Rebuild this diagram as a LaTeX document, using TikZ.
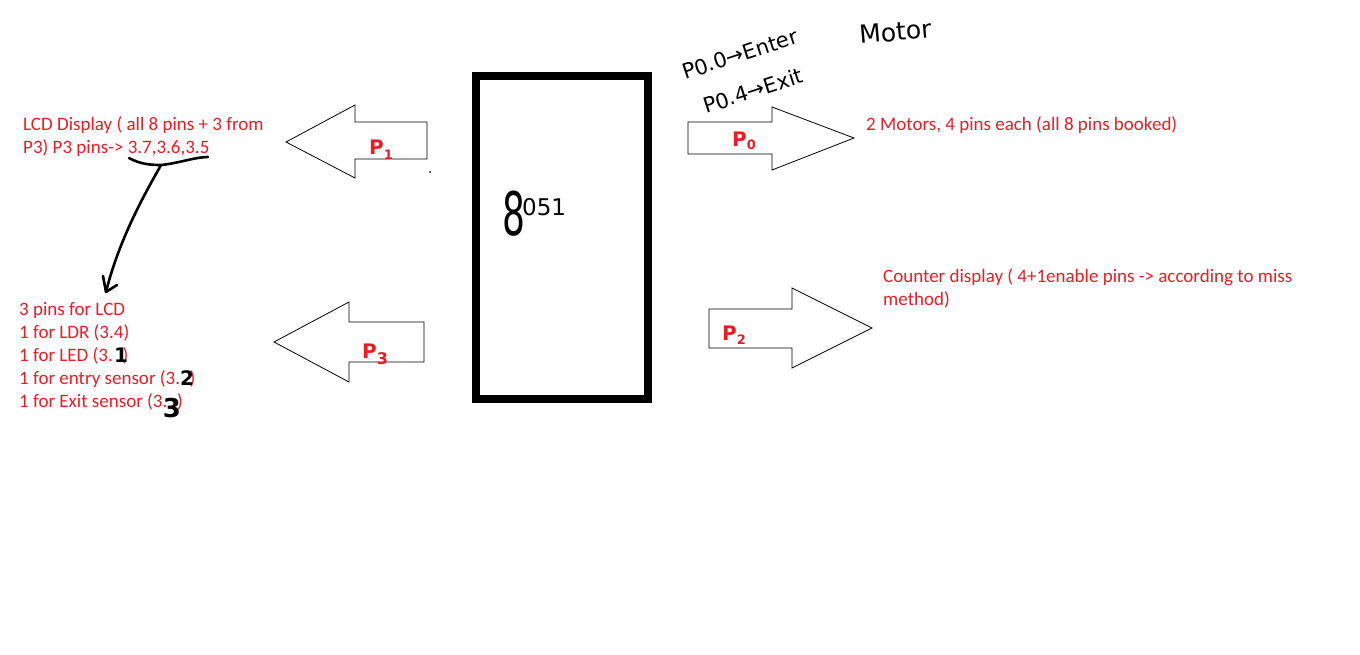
\documentclass[tikz,border=0pt]{standalone}
\usepackage{fontspec}
\setmainfont{Carlito}
\newfontfamily\hand{DejaVu Sans}
\definecolor{pred}{RGB}{237,28,36}
\begin{document}
\begin{tikzpicture}[x=1pt,y=-1pt,
  lbl/.style={text=pred,font=\fontsize{19}{23}\selectfont,inner sep=0pt,align=left},
  bigarrow/.style={draw=black,line width=0.8pt,fill=white,line join=miter},
  plabel/.style={text=pred,font=\hand\bfseries\fontsize{20}{20}\selectfont,inner sep=0pt},
  ink/.style={draw=black,line width=2.6pt,line cap=round,line join=round},
  digit/.style={font=\hand\bfseries\fontsize{20}{20}\selectfont,inner sep=0pt},
  handtext/.style={font=\hand\fontsize{21}{21}\selectfont,inner sep=0pt,text=black}]
\useasboundingbox[fill=white] (0,0) rectangle (1360,654);
% 8051 box
\draw[line width=8pt] (476,76) rectangle (648,399);
\node[anchor=base west,inner sep=0pt,font=\hand\fontsize{60}{60}\selectfont,xscale=0.6] (mcu) at (502,235) {8};
\node[anchor=base west,inner sep=0pt,font=\hand\fontsize{23}{23}\selectfont] (mcu2) at (522,215) {051};
% Arrows
\draw[bigarrow] (286,142) -- (355,105) -- (355,122) -- (427,122) -- (427,159) -- (355,159) -- (355,178) -- cycle;
\draw[bigarrow] (274,342) -- (349,302) -- (349,322) -- (424,322) -- (424,362) -- (349,362) -- (349,382) -- cycle;
\draw[bigarrow] (688,122) -- (772,122) -- (772,107) -- (854,138) -- (772,170) -- (772,154) -- (688,154) -- cycle;
\draw[bigarrow] (709,309) -- (792,309) -- (792,288) -- (872,328) -- (792,368) -- (792,348) -- (709,348) -- cycle;
\fill (430,172) circle (1pt);
% P labels
\node[plabel,anchor=base west] (p1) at (369,154) {P\raisebox{-5pt}{\fontsize{13}{13}\selectfont 1}};
\node[plabel,anchor=base west] (p3) at (362,358) {P\raisebox{-6pt}{\fontsize{16}{16}\selectfont 3}};
\node[plabel,anchor=base west] (p0) at (732,146) {P\raisebox{-3pt}{\fontsize{13}{13}\selectfont 0}};
\node[plabel,anchor=base west] (p2) at (722,340) {P\raisebox{-4pt}{\fontsize{13}{13}\selectfont 2}};
% texts (base anchor = last line's baseline)
\node[lbl,anchor=base west] (lcd) at (23,153) {LCD Display ( all 8 pins + 3 from\\P3) P3 pins-> 3.7,3.6,3.5};
\node[lbl,anchor=base west] (list) at (19,407) {3 pins for LCD\\1 for LDR (3.4)\\1 for LED (3.\phantom{1})\\1 for entry sensor (3.\phantom{1})\\1 for Exit sensor (3.\phantom{1})};
\node[lbl,anchor=base west] (motors) at (866,130) {2 Motors, 4 pins each (all 8 pins booked)};
\node[lbl,anchor=base west] (counter) at (883,305) {Counter display ( 4+1enable pins -> according to miss\\method)};
% handwritten digits
\node[digit] (d1) at (121,355) {1};
\node[digit] (d2) at (187,378) {2};
\node[digit,font=\hand\bfseries\fontsize{26}{26}\selectfont] (d3) at (172,408) {3};
% brace and arrow
\coordinate (b1) at (129,158);
\coordinate (b2) at (208,157);
\coordinate (bm) at (161,165);
\coordinate (tip) at (106,292);
\draw[ink] (b1) .. controls (140,164) and (150,165) .. (bm) .. controls (180,163) and (195,157) .. (b2);
\draw[ink] (bm) .. controls (150,185) and (120,235) .. (tip);
\draw[ink] (103,276) -- (tip) -- (117,285);
% handwritten port notes
\node[handtext,anchor=base west,rotate=18] (n1) at (685,80) {P0.0→Enter};
\node[handtext,anchor=base west,rotate=18] (n2) at (706,114) {P0.4→Exit};
\node[handtext,anchor=base west,rotate=5,font=\hand\fontsize{25}{25}\selectfont] (n3) at (860,44) {Motor};
\end{tikzpicture}
\end{document}
